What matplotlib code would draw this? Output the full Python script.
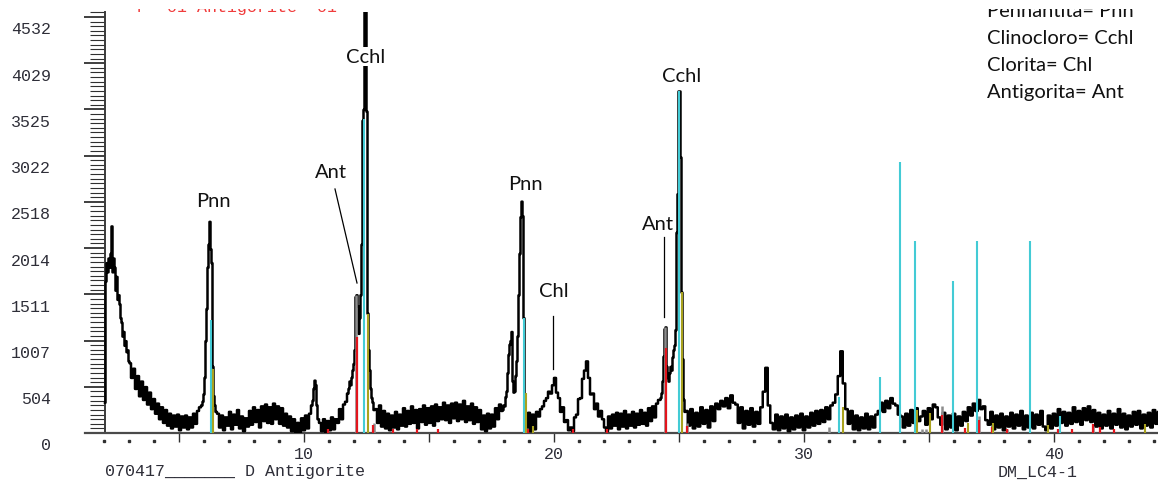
import numpy as np
import matplotlib
matplotlib.use("Agg")
import matplotlib.pyplot as plt
from matplotlib import transforms
from matplotlib.patches import Rectangle

# ---------------- diffractogram counts (2-theta scan, segment by segment) ----------------
# each segment: first 2-theta, scan step, counts
low_angle = (2.04, 0.04, [330, 1650, 1850, 1750, 1900, 1800, 1950, 2250, 1750, 1900,
                          1800, 1550, 1700, 1450, 1500, 1400, 1250, 1200, 1050, 1100,
                          950, 1000, 880, 900, 780])
decay = (3.04, 0.08, [760, 600, 700, 480, 620, 400, 560, 360, 500, 310,
                      440, 260, 370, 210, 320, 150, 280, 110, 250, 80,
                      210, 50, 190, 70, 200, 30, 180, 60, 190, 40,
                      170, 60, 210, 100, 240, 280])
pnn_first = (5.92, 0.04, [300, 340, 420, 600, 1000, 1350, 1800, 2050, 2300, 2000,
                          1850, 720, 400, 300, 230])
background_a = (6.56, 0.08, [210, 60, 190, 30, 170, 80, 230, 40, 200, 90,
                             250, 50, 180, 20, 160, 70, 240, 90, 280, 120,
                             250, 60, 290, 130, 310, 110, 280, 100, 320, 150,
                             290, 100, 270, 80, 210, 60, 180, 20, 150, 10,
                             110, 10, 160, 30, 190, 50, 210, 300])
small_peak = (10.36, 0.04, [350, 480, 570, 520, 300, 150])
background_b = (10.64, 0.08, [110, 20, 150, 10, 130, 30, 170, 40, 150, 110,
                              260, 150, 310, 340, 430])
ant_cchl_first = (11.80, 0.04, [480, 560, 520, 600, 680, 750, 900, 1480, 1500, 1380,
                                1080, 1250, 1500, 2050, 3400, 3520, 5600, 5600, 3500, 1300,
                                900, 680, 480, 380, 330, 250])
background_c = (12.88, 0.08, [260, 110, 300, 70, 240, 50, 210, 30, 190, 60,
                              230, 40, 200, 80, 270, 70, 240, 100, 290, 110,
                              250, 50, 260, 120, 300, 90, 270, 110, 290, 80,
                              310, 130, 280, 150, 330, 140, 300, 110, 320, 160,
                              330, 130, 310, 150, 350, 120, 290, 140, 320, 100,
                              280, 120, 250, 40, 190, 20, 210, 50, 200, 70,
                              270, 150, 310, 240])
pnn_second = (17.96, 0.04, [250, 300, 290, 390, 450, 650, 850, 960, 1000, 1100,
                            560, 440, 450, 620, 780, 1050, 1500, 1950, 2350, 2520,
                            2360, 1250, 200, 90, 60])
chl_region = (19.00, 0.08, [220, 20, 200, 40, 230, 180, 260, 290, 350, 380,
                            450, 430, 520, 600, 440, 380, 230, 280, 120, 140,
                            30, 60, 20, 170, 200, 370, 380, 590, 680, 780,
                            600, 420, 430, 260, 320, 180, 240, 150, 60, 20,
                            180, 50, 200, 80, 220, 40, 210, 70, 240, 50,
                            200, 80, 230, 60, 210, 90, 250, 100, 220, 80,
                            270, 130, 290, 170, 320, 360])
ant_cchl_second = (24.24, 0.04, [360, 380, 430, 560, 830, 1130, 1150, 720, 600, 560,
                                 650, 720, 680, 820, 900, 950, 1120, 2180, 2600, 3720,
                                 3720, 3000, 1530, 800, 360, 230])
high_angle = (25.30, 0.10, [240, 80, 260, 50, 220, 70, 280, 100, 250, 60,
                            290, 130, 320, 260, 350, 290, 380, 270, 410, 330,
                            310, 110, 280, 50, 240, 90, 270, 70, 230, 100,
                            280, 450, 710, 300, 110, 40, 200, 30, 180, 50,
                            200, 20, 170, 40, 190, 60, 210, 30, 180, 60,
                            220, 80, 240, 100, 250, 120, 280, 150, 300, 330,
                            420, 620, 890, 540, 260, 100, 240, 40, 190, 30,
                            170, 50, 210, 40, 180, 60, 200, 240, 330, 230,
                            350, 270, 380, 320, 300, 200, 180, 60, 210, 80,
                            250, 110, 270, 130, 180, 240, 90, 270, 150, 310,
                            280, 170, 90, 220, 40, 190, 60, 210, 30, 180,
                            80, 230, 130, 280, 190, 320, 240, 360, 260, 290,
                            140, 90, 230, 40, 190, 60, 210, 30, 180, 70,
                            220, 50, 200, 80, 240, 40, 190, 60, 220, 50,
                            200, 90, 240, 70, 30, 190, 50, 210, 80, 260,
                            110, 230, 80, 220, 100, 280, 120, 240, 90, 270,
                            140, 290, 120, 250, 70, 220, 50, 200, 80, 240,
                            50, 210, 90, 260, 60, 210, 40, 190, 70, 230,
                            90, 240, 50, 200, 80, 220, 60, 250, 100, 230])

scan_segments = [low_angle, decay, pnn_first, background_a, small_peak, background_b,
                 ant_cchl_first, background_c, pnn_second, chl_region,
                 ant_cchl_second, high_angle]

# ---------------- reference patterns (stick positions / intensities) ----------------
clinochlore_pos = [6.28, 12.40, 18.80, 25.00, 31.40, 33.04, 33.84, 34.44, 35.96, 36.92, 39.04, 40.24]
clinochlore_int = [1230, 3420, 1250, 3720, 390, 610, 2950, 2090, 1660, 2090, 2090, 180]

pennantite_pos = [6.36, 12.56, 18.88, 19.16, 25.12, 31.56, 34.52, 35.04, 36.56, 37.56, 39.76, 43.64]
pennantite_int = [700, 1300, 440, 80, 1540, 280, 250, 220, 110, 110, 90, 100]

chlorite_pos = [12.08, 24.44, 12.80, 25.32, 31.00, 34.70, 34.86, 35.50, 36.98, 38.12, 41.56]
chlorite_int = [1500, 1160, 110, 110, 60, 40, 40, 290, 180, 40, 80]

antigorite_pos = [10.96, 12.12, 12.76, 13.56, 14.52, 15.36, 18.96, 20.76, 22.12, 24.48, 25.32,
                  35.50, 36.44, 37.00, 37.52, 38.12, 40.16, 40.72, 41.56, 41.84, 42.40]
antigorite_int = [40, 1050, 90, 40, 40, 40, 40, 40, 40, 930, 80,
                  200, 50, 140, 60, 40, 40, 40, 100, 60, 40]

# ---------------- axis labelling ----------------
y_tick_values = [0, 503.6, 1007.2, 1510.8, 2014.4, 2518.0, 3021.6, 3525.2, 4028.8, 4532.4]
y_tick_labels = ["0", "504", "1007", "1511", "2014", "2518", "3022", "3525", "4029", "4532"]
x_label_values = [10, 20, 30, 40]
x_major_ticks = [5, 10, 15, 20, 25, 30, 35, 40]

phase_key = ["Pennantita= Pnn", "Clinocloro= Cchl", "Clorita= Chl", "Antigorita= Ant"]

# peak labels: text, 2-theta, counts at text baseline
peak_labels = [("Pnn", 6.36, 2473), ("Cchl", 12.48, 4041), ("Ant", 11.08, 2789),
               ("Pnn", 18.86, 2658), ("Chl", 20.00, 1492), ("Ant", 24.16, 2222),
               ("Cchl", 25.10, 3834)]

# ---------------- build scan ----------------
two_theta = np.concatenate([start + step * np.arange(len(c)) for start, step, c in scan_segments])
intensity = np.concatenate([np.asarray(c, float) for _, _, c in scan_segments])

W, H = 1158, 481
fig = plt.figure(figsize=(W / 100, H / 100), dpi=100)
ax = fig.add_axes([85 / W, 47 / H, (W - 85) / W, (434 - 13) / H])
ax.set_xlim(1.24, 44.16)
ax.set_ylim(0, 4586)

mono = "Liberation Mono"
sans = "Lato"
label_color = "#2e2e38"

ax.plot(two_theta, intensity, color="black", lw=1.8, drawstyle="steps-mid", zorder=3)

ax.vlines(chlorite_pos, 0, chlorite_int, colors="#8c8c8c", lw=1.8, zorder=4)
ax.vlines(antigorite_pos, 0, antigorite_int, colors="#e3141c", lw=1.6, zorder=5)
ax.vlines(clinochlore_pos, 0, clinochlore_int, colors="#43cbd5", lw=1.5, zorder=5)
ax.vlines(pennantite_pos, 0, pennantite_int, colors="#a9a21e", lw=1.5, zorder=5)

# spines
for s in ("top", "right"):
    ax.spines[s].set_visible(False)
ax.spines["left"].set_position(("data", 2.04))
ax.spines["left"].set_color("#3a3a3a")
ax.spines["left"].set_linewidth(1.4)
ax.spines["bottom"].set_color("#4a4a4a")
ax.spines["bottom"].set_linewidth(1.6)

# ticks
ax.set_yticks(y_tick_values)
ax.set_yticks(np.arange(0, 4586, 50.36), minor=True)
ax.set_yticklabels([])
ax.tick_params(axis="y", which="major", length=15, width=1.3, color="#303030", direction="out")
ax.tick_params(axis="y", which="minor", length=11, width=0.8, color="#303030", direction="out")
ax.set_xticks(x_major_ticks)
ax.set_xticklabels([])
ax.tick_params(axis="x", which="major", length=6.5, width=1.0, color="#303030", direction="out")

px = 1 / 100.0
minor_x = [v for v in range(2, 45) if v % 5 != 0]
ax.plot(minor_x, np.zeros(len(minor_x)), ls="none", marker="s", ms=1.5, color="#303030",
        transform=ax.transData + transforms.ScaledTranslation(0, -8 * px, fig.dpi_scale_trans),
        clip_on=False)

ylab_tr = ax.transData + transforms.ScaledTranslation(-54 * px, -12 * px, fig.dpi_scale_trans)
for v, lab in zip(y_tick_values, y_tick_labels):
    ax.text(2.04, v, lab, transform=ylab_tr, ha="right", va="center", fontfamily=mono,
            fontsize=12, color=label_color, clip_on=False)

xlab_tr = ax.transData + transforms.ScaledTranslation(0, -21 * px, fig.dpi_scale_trans)
for v in x_label_values:
    ax.text(v, 0, str(v), transform=xlab_tr, ha="center", va="center", fontfamily=mono,
            fontsize=12, color=label_color, clip_on=False)

fig.text(105 / W, 1 - 472 / H, "070417_______ D Antigorite", ha="left", va="center",
         fontfamily=mono, fontsize=12, color=label_color)
fig.text(998 / W, 1 - 472 / H, "DM_LC4-1", ha="left", va="center",
         fontfamily=mono, fontsize=12, color=label_color)

# peak labels and leader lines
for txt, tt, cnt in peak_labels:
    kw = {}
    if txt == "Cchl" and tt < 20:
        kw["bbox"] = dict(facecolor="white", edgecolor="none", pad=1.0)
    ax.text(tt, cnt, txt, ha="center", va="baseline", fontfamily=sans, fontsize=14.5,
            color="#111111", zorder=6, **kw)
ax.plot([11.24, 12.12], [2658, 1634], color="black", lw=0.9, zorder=6)
ax.plot([19.95, 19.95], [1275, 697], color="black", lw=0.9, zorder=6)
ax.plot([24.40, 24.40], [2135, 1264], color="black", lw=0.9, zorder=6)

# phase key (upper right) and pattern caption
for i, line in enumerate(phase_key):
    fig.text(987 / W, 1 - (17 + 27 * i) / H, line, ha="left", va="baseline",
             fontfamily=sans, fontsize=14.5, color="#111111")
fig.text(137 / W, 1 - 12 / H, "P  01 Antigorite  01", ha="left", va="baseline",
         fontfamily=mono, fontsize=12, color="#f03c3c")

# blank top margin strip
fig.add_artist(Rectangle((0, 1 - 10 / H), 1, 10 / H, transform=fig.transFigure,
                         facecolor="white", edgecolor="none", zorder=20))

fig.savefig("out.png", dpi=100)
